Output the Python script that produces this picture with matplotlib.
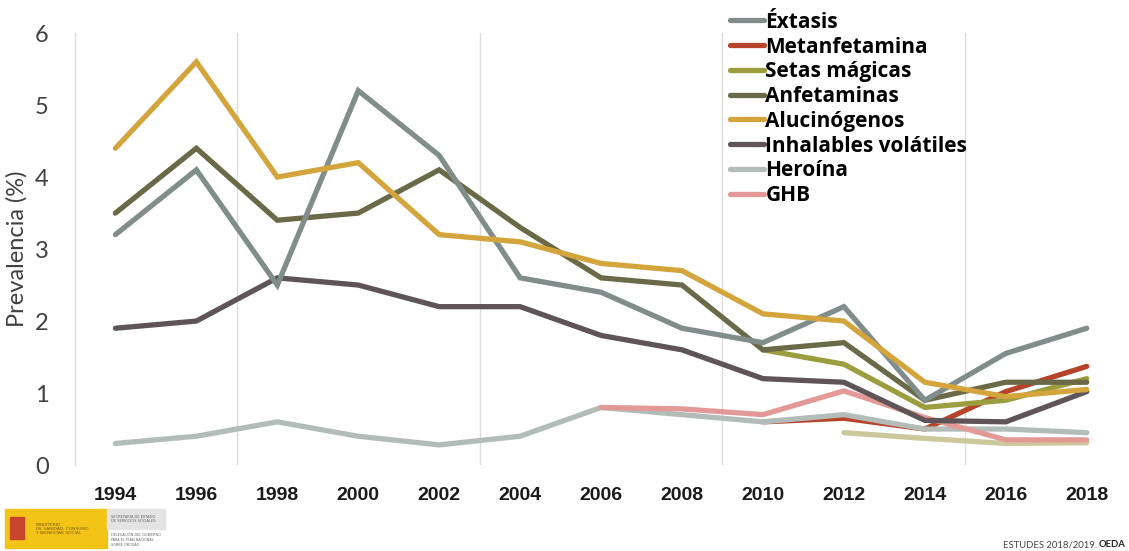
import matplotlib.pyplot as plt
from matplotlib.patches import Rectangle

# Prevalencia de consumo por sustancia (%), años de encuesta
anios = [1994, 1996, 1998, 2000, 2002, 2004, 2006, 2008, 2010, 2012, 2014, 2016, 2018]

extasis = [3.2, 4.1, 2.5, 5.2, 4.3, 2.6, 2.4, 1.9, 1.7, 2.2, 0.9, 1.55, 1.9]
anfetaminas = [3.5, 4.4, 3.4, 3.5, 4.1, 3.3, 2.6, 2.5, 1.6, 1.7, 0.9, 1.15, 1.15]
alucinogenos = [4.4, 5.6, 4.0, 4.2, 3.2, 3.1, 2.8, 2.7, 2.1, 2.0, 1.15, 0.95, 1.05]
inhalables = [1.9, 2.0, 2.6, 2.5, 2.2, 2.2, 1.8, 1.6, 1.2, 1.15, 0.62, 0.6, 1.02]
heroina = [0.3, 0.4, 0.6, 0.4, 0.28, 0.4, 0.8, 0.7, 0.6, 0.7, 0.5, 0.5, 0.45]

anios_ghb = [2006, 2008, 2010, 2012, 2014, 2016, 2018]
ghb = [0.8, 0.78, 0.7, 1.03, 0.66, 0.35, 0.35]

anios_recientes = [2010, 2012, 2014, 2016, 2018]
metanfetamina = [0.6, 0.65, 0.5, 1.02, 1.37]
setas = [1.6, 1.4, 0.8, 0.9, 1.2]

anios_otra = [2012, 2014, 2016, 2018]
otra = [0.45, 0.37, 0.3, 0.31]

series = [
    ("Metanfetamina", anios_recientes, metanfetamina, "#b8432b"),
    ("Heroína", anios, heroina, "#b3bcb8"),
    (None, anios_otra, otra, "#cbc99c"),
    ("GHB", anios_ghb, ghb, "#e39a96"),
    ("Inhalables volátiles", anios, inhalables, "#5f5558"),
    ("Setas mágicas", anios_recientes, setas, "#9c9d3f"),
    ("Anfetaminas", anios, anfetaminas, "#6a6a48"),
    ("Éxtasis", anios, extasis, "#808d8b"),
    ("Alucinógenos", anios, alucinogenos, "#d3a53c"),
]
orden_leyenda = ["Éxtasis", "Metanfetamina", "Setas mágicas", "Anfetaminas",
                 "Alucinógenos", "Inhalables volátiles", "Heroína", "GHB"]

fig = plt.figure(figsize=(11.29, 5.51), dpi=100)
ax = fig.add_axes([0.0664, 0.156, 0.932, 0.784])

lineas = {}
for nombre, x, y, color in series:
    (ln,) = ax.plot(x, y, color=color, lw=3.8, solid_capstyle="round",
                    solid_joinstyle="miter")
    if nombre:
        lineas[nombre] = ln

ax.set_xlim(1993, 2019)
ax.set_ylim(0, 6)
for xg in [1997, 2003, 2009, 2015]:
    ax.axvline(xg, color="#dcdcdc", lw=1.0, zorder=0)

for s in ["top", "right", "bottom"]:
    ax.spines[s].set_visible(False)
ax.spines["left"].set_color("#dcdcdc")
ax.spines["left"].set_linewidth(1.0)

ax.set_xticks(anios)
ax.set_xticklabels([str(a) for a in anios], fontsize=14, fontweight="bold",
                   family="Liberation Sans", color="#1a1a1a")
ax.set_yticks(range(7))
ax.set_yticklabels([str(v) for v in range(7)], fontsize=17, family="Lato",
                   color="#404040")
ax.tick_params(axis="x", length=0, pad=16)
ax.tick_params(axis="y", length=0, pad=19)
ax.set_ylabel("Prevalencia (%)", fontsize=17, family="Lato",
              color="#404040", labelpad=5)

leg = ax.legend([lineas[n] for n in orden_leyenda], orden_leyenda,
                loc="upper left", bbox_to_anchor=(0.641, 0.99),
                bbox_transform=fig.transFigure, frameon=False,
                prop={"family": "Open Sans", "weight": "bold", "size": 15},
                handlelength=1.65, handletextpad=0.05, labelspacing=0.18,
                borderaxespad=0, borderpad=0.3)

# logotipo institucional al pie
fig.patches.append(Rectangle((5 / 1129, 3 / 551), 102 / 1129, 39 / 551,
                             transform=fig.transFigure, color="#f3c417"))
fig.patches.append(Rectangle((10 / 1129, 12 / 551), 14 / 1129, 22 / 551,
                             transform=fig.transFigure, color="#c8442c"))
fig.patches.append(Rectangle((107 / 1129, 22 / 551), 58 / 1129, 20 / 551,
                             transform=fig.transFigure, color="#e4e4e4"))
fig.text(36 / 1129, 22 / 551, "MINISTERIO\nDE SANIDAD, CONSUMO\nY BIENESTAR SOCIAL",
         fontsize=3.2, va="center", color="#7a5b10", linespacing=1.1)
fig.text(111 / 1129, 32 / 551, "SECRETARÍA DE ESTADO\nDE SERVICIOS SOCIALES",
         fontsize=2.6, va="center", color="#666666")
fig.text(111 / 1129, 11 / 551, "DELEGACIÓN DEL GOBIERNO\nPARA EL PLAN NACIONAL\nSOBRE DROGAS",
         fontsize=2.4, va="center", color="#666666")

fig.text(1003 / 1129, 4 / 551, "ESTUDES 2018/2019.", fontsize=6.8,
         color="#444444", family="Lato")
fig.text(1099 / 1129, 4 / 551, "OEDA", fontsize=6.8, fontweight="bold",
         color="#222222", family="Lato")

fig.savefig("out.png", dpi=100, facecolor="white")
